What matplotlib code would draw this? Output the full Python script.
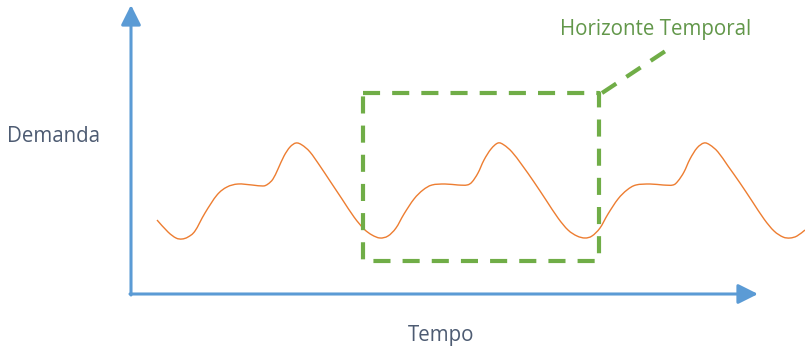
import numpy as np
import matplotlib.pyplot as plt
from matplotlib.patches import FancyArrowPatch, PathPatch
from matplotlib.path import Path

# demand curve, in pixel coordinates of the drawing (y grows downward)
curve_x = [157, 168, 176, 182, 188, 195, 205, 217, 227, 238, 252, 263, 268, 273, 278, 284, 290,
           296, 302, 310, 320, 330, 342, 354, 364, 372, 380, 388, 396,
           404, 414, 423, 432, 445, 458, 467, 472, 478, 484, 491, 498, 504, 512, 522, 534, 546,
           558, 568, 577, 585, 592, 600,
           608, 618, 627, 636, 650, 663, 673, 678, 684, 690, 697, 704, 710, 718, 728, 740, 752,
           764, 774, 783, 790, 797, 805]
curve_y = [220, 232, 238, 239, 237, 231, 213, 195, 187, 184, 185, 186, 184, 179, 169, 156, 147,
           143, 145, 152, 166, 181, 199, 217, 229, 235, 238, 236, 228,
           214, 199, 190, 185, 184, 185, 185, 182, 173, 160, 149, 143, 145, 152, 165, 182, 200,
           218, 230, 236, 238, 236, 228,
           214, 199, 190, 185, 184, 185, 185, 181, 172, 159, 148, 143, 145, 152, 166, 183, 201,
           219, 231, 237, 238, 236, 230]

# horizon box and its leader line
box_x = [363, 599]
box_y = [93, 261]
leader_x = [602, 667]
leader_y = [93, 50]

blue = '#5B9BD5'
green = '#70AD47'
orange = '#ED7D31'
slate = '#4D5B72'


def smooth_path(xs, ys):
    # catmull-rom through the points, handed to matplotlib as cubic beziers
    p = np.column_stack([xs, ys]).astype(float)
    p = np.vstack([p[0], p, p[-1]])
    verts = [p[1]]
    codes = [Path.MOVETO]
    for i in range(1, len(p) - 2):
        c1 = p[i] + (p[i + 1] - p[i - 1]) / 6
        c2 = p[i + 1] - (p[i + 2] - p[i]) / 6
        verts += [c1, c2, p[i + 1]]
        codes += [Path.CURVE4] * 3
    return Path(verts, codes)


fig = plt.figure(figsize=(8.05, 3.49), dpi=100)
ax = fig.add_axes([0, 0, 1, 1])
ax.set_xlim(0, 805)
ax.set_ylim(349, 0)
ax.axis('off')

# axes arrows
for start, end in [((131, 295), (131, 5)), ((130, 294), (758, 294))]:
    arr = FancyArrowPatch(start, end, arrowstyle='-|>,head_length=12,head_width=6',
                          mutation_scale=1, color=blue, lw=2.2, shrinkA=0, shrinkB=0)
    ax.add_patch(arr)

ax.add_patch(PathPatch(smooth_path(curve_x, curve_y), fc='none', ec=orange, lw=1.0))

# dashed box
bx = [box_x[0], box_x[1], box_x[1], box_x[0], box_x[0]]
by = [box_y[0], box_y[0], box_y[1], box_y[1], box_y[0]]
ax.plot(bx, by, color=green, lw=3.0, dashes=(4.1, 2.9))
ax.plot(leader_x, leader_y, color=green, lw=3.0, dashes=(4.1, 2.9))

fam = ['Open Sans', 'DejaVu Sans']
ax.text(656, 30, 'Horizonte Temporal', color='#62974A', fontsize=14.8, family=fam,
        ha='center', va='center')
ax.text(53, 137, 'Demanda', color=slate, fontsize=14.8, family=fam, ha='center', va='center')
ax.text(441, 336, 'Tempo', color=slate, fontsize=14.8, family=fam, ha='center', va='center')

fig.savefig('out.png', dpi=100)
